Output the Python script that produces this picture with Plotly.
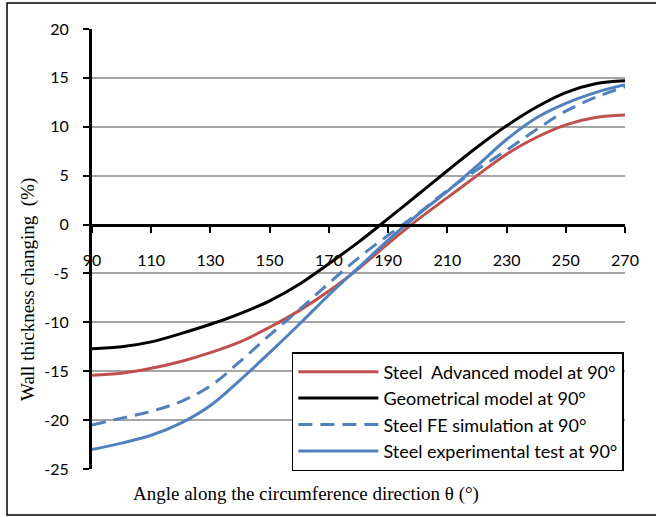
import plotly.graph_objects as go

angle = [90, 100, 110, 120, 130, 140, 150, 160, 170, 180, 190, 200, 210, 220, 230, 240, 250, 260, 270]
advanced = [-15.4, -15.2, -14.7, -14.0, -13.1, -12.0, -10.5, -8.8, -6.8, -4.5, -1.95, 0.5, 2.75, 5.0, 7.2, 8.9, 10.2, 10.95, 11.2]
geometric = [-12.7, -12.5, -12.0, -11.15, -10.2, -9.1, -7.8, -6.1, -4.0, -1.8, 0.6, 3.05, 5.5, 7.9, 10.1, 12.0, 13.5, 14.4, 14.7]
fe_sim = [-20.5, -19.8, -19.1, -18.1, -16.5, -14.0, -11.3, -8.7, -6.0, -3.4, -1.1, 1.1, 3.5, 5.6, 7.6, 9.7, 11.6, 13.0, 14.1]
experiment = [-23.0, -22.35, -21.55, -20.3, -18.5, -15.9, -13.1, -10.2, -7.2, -4.4, -1.6, 1.0, 3.4, 6.0, 8.7, 10.9, 12.4, 13.5, 14.3]

x_ticks = [90, 110, 130, 150, 170, 190, 210, 230, 250, 270]
y_ticks = [-25, -20, -15, -10, -5, 0, 5, 10, 15, 20]

names = ["Steel\u00a0 Advanced model at 90°", "Geometrical model at 90°",
         "Steel FE simulation at 90°", "Steel experimental test at 90°"]

RED = "#C0504D"
BLUE = "#4F81BD"

fig = go.Figure()
fig.add_trace(go.Scatter(x=angle, y=advanced, name=names[0], mode="lines",
                         line=dict(color=RED, width=3, shape="spline")))
fig.add_trace(go.Scatter(x=angle, y=geometric, name=names[1], mode="lines",
                         line=dict(color="black", width=3, shape="spline")))
fig.add_trace(go.Scatter(x=angle, y=fe_sim, name=names[2], mode="lines",
                         line=dict(color=BLUE, width=3, shape="spline", dash="14px,8px")))
fig.add_trace(go.Scatter(x=angle, y=experiment, name=names[3], mode="lines",
                         line=dict(color=BLUE, width=3, shape="spline")))

tick_font = dict(family="Lato, Liberation Sans, sans-serif", size=16, color="black")
serif = dict(family="Liberation Serif, Times New Roman, serif", size=19, color="black")

fig.update_layout(
    width=656, height=517,
    margin=dict(l=92, r=31, t=29, b=48),
    paper_bgcolor="white", plot_bgcolor="white",
    showlegend=True,
    legend=dict(x=0.375, y=(469 - 411.5) / 440, xanchor="left", yanchor="middle",
                bgcolor="white", bordercolor="black", borderwidth=1.5,
                font=dict(family="Lato, Liberation Sans, sans-serif", size=18, color="black"),
                tracegroupgap=0, itemwidth=80),
    xaxis=dict(range=[90, 270], tickvals=x_ticks, ticktext=[str(v) for v in x_ticks],
               showgrid=False, zeroline=False, showline=True, linecolor="black", linewidth=3,
               ticks="outside", ticklen=6, tickwidth=2, tickcolor="black",
               anchor="free", position=25 / 45, tickfont=tick_font, ticklabelstandoff=14),
    yaxis=dict(range=[-25, 20], tickvals=y_ticks, ticktext=[str(v) for v in y_ticks],
               showgrid=True, gridcolor="#A6A6A6", gridwidth=1.5, zeroline=False,
               showline=True, linecolor="black", linewidth=3,
               ticks="outside", ticklen=6, tickwidth=2, tickcolor="black",
               tickfont=tick_font, ticklabelstandoff=11),
    annotations=[
        dict(text="Angle along the circumference direction θ (°)", xref="paper", yref="paper",
             x=(305.5 - 92) / 533, y=(469 - 494) / 440, xanchor="center", yanchor="middle",
             showarrow=False, font=serif),
        dict(text="Wall thickness changing\u00a0 (%)", xref="paper", yref="paper",
             x=(28 - 92) / 533, y=(469 - 290) / 440, xanchor="center", yanchor="middle",
             textangle=-90, showarrow=False, font=serif),
    ],
    shapes=[
        dict(type="rect", xref="paper", yref="paper",
             x0=(7 - 92) / 533, x1=(662 - 92) / 533,
             y0=(469 - 515) / 440, y1=(469 - 3) / 440,
             line=dict(color="black", width=1.5), fillcolor="rgba(0,0,0,0)", layer="below"),
    ],
)

fig.write_html("out.html", config={"displayModeBar": False},
               post_script="document.body.style.margin='0';")
